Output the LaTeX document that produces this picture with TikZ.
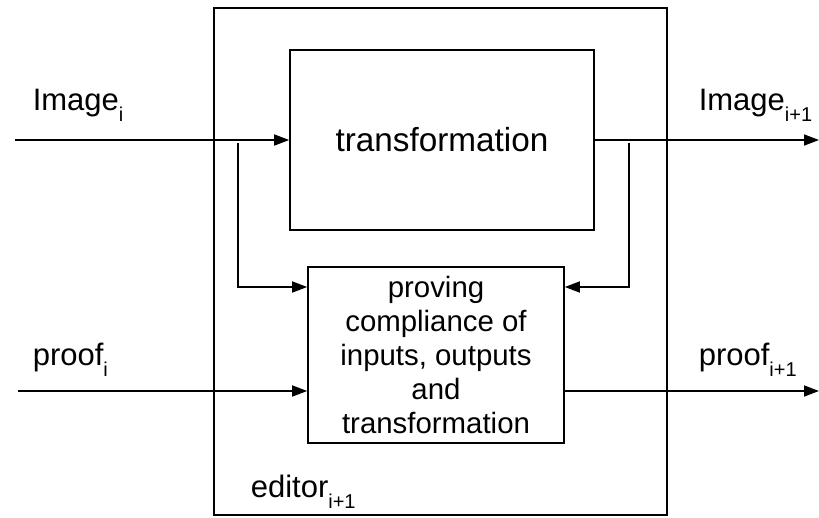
\documentclass[tikz,border=0pt]{standalone}
\usepackage{fontspec}
\setmainfont{Liberation Sans}
\usetikzlibrary{arrows.meta}
\newcommand{\lowsub}[1]{\raisebox{-11pt}{\fontsize{20}{20}\selectfont #1}}

\begin{document}
\begin{tikzpicture}[x=1pt,y=-1pt,line width=1.6pt,
    box/.style={draw,minimum width=#1},
    lab/.style={anchor=base west,inner sep=0pt,font=\fontsize{31}{36}\selectfont},
    flow/.style={-{Triangle[length=15pt,width=11pt]}}]
    \useasboundingbox (0,0) rectangle (819,517);

    \node[box=453pt,minimum height=507pt] (editor) at (440.5,261.5) {};
    \node[box=304pt,minimum height=180pt,font=\fontsize{33.3}{38}\selectfont] (transf) at (442,140) {transformation};
    \node[box=256pt,minimum height=176pt,align=center,font=\fontsize{29.4}{34}\selectfont] (prove) at (436,355)
        {proving\\compliance of\\inputs, outputs\\and\\transformation};

    \node[lab] (imgin) at (32,110) {Image\lowsub{i}};
    \node[lab] (imgout) at (698,110) {Image\lowsub{i+1}};
    \node[lab] (prfin) at (32,365) {proof\lowsub{i}};
    \node[lab] (prfout) at (698,365) {proof\lowsub{i+1}};
    \node[lab] (edlab) at (250,497) {editor\lowsub{i+1}};

    \coordinate (imgstart) at (15,140);
    \coordinate (imgend) at (819,140);
    \coordinate (prfstart) at (18,391);
    \coordinate (prfend) at (819,391);
    \coordinate (tapl) at (238,143);
    \coordinate (tapr) at (629,143);
    \coordinate (inl) at (prove.west |- 0,287);
    \coordinate (inr) at (prove.east |- 0,287);

    \draw[flow] (imgstart) -- (transf.west);
    \draw[flow] (transf.east) -- (imgend);
    \draw[flow] (prfstart) -- (prfstart -| prove.west);
    \draw[flow] (prfstart -| prove.east) -- (prfend);
    \draw[flow] (tapl) |- (inl);
    \draw[flow] (tapr) |- (inr);
\end{tikzpicture}
\end{document}
